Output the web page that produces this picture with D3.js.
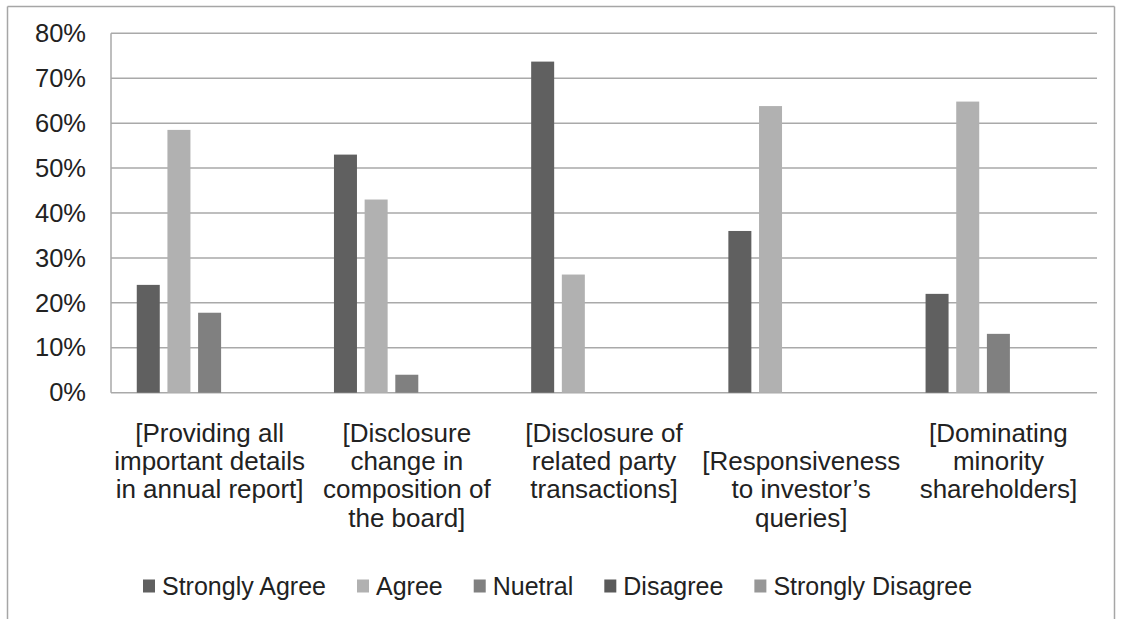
<!DOCTYPE html>
<html>
<head>
<meta charset="utf-8">
<script src="https://cdn.jsdelivr.net/npm/d3@7"></script>
<style>
  html, body { margin: 0; padding: 0; background: #fff; overflow: hidden; }
  svg { display: block; }
</style>
</head>
<body>
<div id="chart"></div>
<script>
// categories, each label split into lines (the 4th one starts one line lower)
var categories = ["c1", "c2", "c3", "c4", "c5"];
var categoryLines = [
    ["[Providing all", "important details", "in annual report]"],
    ["[Disclosure", "change in", "composition of", "the board]"],
    ["[Disclosure of", "related party", "transactions]"],
    [null, "[Responsiveness", "to investor\u2019s", "queries]"],
    ["[Dominating", "minority", "shareholders]"]
];
var seriesNames = ["Strongly Agree", "Agree", "Nuetral", "Disagree", "Strongly Disagree"];
var stronglyAgree    = [24, 53, 73.7, 36, 22];
var agree            = [58.5, 43, 26.3, 63.8, 64.8];
var nuetral          = [17.8, 4, 0, 0, 13.1];
var disagree         = [0, 0, 0, 0, 0];
var stronglyDisagree = [0, 0, 0, 0, 0];
var yTicks = [0, 10, 20, 30, 40, 50, 60, 70, 80];

var seriesColors = ["#606060", "#b1b1b1", "#808080", "#5a5a5a", "#979797"];
var seriesValues = [stronglyAgree, agree, nuetral, disagree, stronglyDisagree];

var fontFamily = '"Liberation Sans", Arial, sans-serif';
var width = 1121, height = 619;
var margin = { left: 111, top: 33.3, right: 24, bottom: 226.3 };
var innerWidth = width - margin.left - margin.right;
var innerHeight = height - margin.top - margin.bottom;

var svg = d3.select('#chart').append('svg')
    .attr('width', width)
    .attr('height', height)
    .attr('font-family', fontFamily);

// chart area border: top, left and right edges (bottom falls outside the picture)
var borderLines = [[7.5, 6.5, 1114.5, 6.5], [7.5, 6.5, 7.5, height], [1114.5, 6.5, 1114.5, height]];
svg.selectAll('.border')
    .data(borderLines)
    .enter().append('line')
    .attr('class', 'border')
    .attr('x1', function (d) { return d[0]; })
    .attr('y1', function (d) { return d[1]; })
    .attr('x2', function (d) { return d[2]; })
    .attr('y2', function (d) { return d[3]; })
    .attr('stroke', '#a6a6a6')
    .attr('stroke-width', 1.5);

var g = svg.append('g')
    .attr('transform', 'translate(' + margin.left + ',' + margin.top + ')');

var x0 = d3.scaleBand().domain(categories).range([0, innerWidth]).padding(0);
var x1 = d3.scaleBand().domain(seriesNames).range([0, x0.bandwidth()])
    .paddingInner(0.25).paddingOuter(0.84);
var y = d3.scaleLinear().domain([0, 80]).range([innerHeight, 0]);

// gridlines
g.selectAll('.grid')
    .data(yTicks)
    .enter().append('line')
    .attr('class', 'grid')
    .attr('x1', 0).attr('x2', innerWidth)
    .attr('y1', function (d) { return y(d); })
    .attr('y2', function (d) { return y(d); })
    .attr('stroke', '#a9a9a9')
    .attr('stroke-width', 1.5);

// y axis line
g.append('line')
    .attr('x1', 0).attr('x2', 0)
    .attr('y1', 0).attr('y2', innerHeight)
    .attr('stroke', '#a9a9a9')
    .attr('stroke-width', 1.5);

var yAxis = d3.axisLeft(y)
    .tickValues(yTicks)
    .tickSize(0)
    .tickPadding(25)
    .tickFormat(function (d) { return d + '%'; });

var yAxisG = g.append('g')
    .call(yAxis)
    .attr('font-family', fontFamily)
    .attr('font-size', 25.5);
yAxisG.select('.domain').remove();
yAxisG.selectAll('text').attr('fill', '#222');

// bars
seriesNames.forEach(function (name, si) {
    g.selectAll('.bar' + si)
        .data(seriesValues[si])
        .enter().append('rect')
        .attr('class', 'bar' + si)
        .attr('x', function (d, i) { return x0(categories[i]) + x1(name); })
        .attr('y', function (d) { return y(d); })
        .attr('width', x1.bandwidth())
        .attr('height', function (d) { return innerHeight - y(d); })
        .attr('fill', seriesColors[si]);
});

// category labels, one text per line
var lineH = 28.3;
categories.forEach(function (c, i) {
    categoryLines[i].forEach(function (ln, k) {
        if (!ln) return;
        g.append('text')
            .attr('text-anchor', 'middle')
            .attr('font-size', 26)
            .attr('fill', '#222')
            .attr('x', x0(c) + x0.bandwidth() / 2)
            .attr('y', innerHeight + 49 + k * lineH)
            .text(ln);
    });
});

// legend
var legend = svg.append('g').attr('transform', 'translate(143,586)');
var lx = 0;
seriesNames.forEach(function (name, si) {
    legend.append('rect')
        .attr('x', lx).attr('y', -6.5)
        .attr('width', 12).attr('height', 13)
        .attr('fill', seriesColors[si]);
    var t = legend.append('text')
        .attr('x', lx + 19)
        .attr('y', 9)
        .attr('font-size', 25)
        .attr('fill', '#222')
        .text(name);
    lx += 19 + t.node().getComputedTextLength() + 31;
});
</script>
</body>
</html>
